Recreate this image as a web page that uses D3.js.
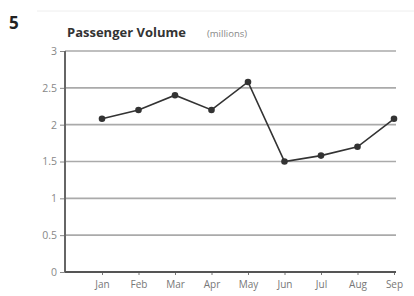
<!DOCTYPE html>
<html>
<head>
<meta charset="utf-8">
<script src="https://cdn.jsdelivr.net/npm/d3@7"></script>
<style>
  body { margin: 0; background: #fff; }
  text { font-family: "Open Sans", "DejaVu Sans", sans-serif; }
</style>
</head>
<body>
<div id="wrapper"></div>
<script>
const months = ["Jan", "Feb", "Mar", "Apr", "May", "Jun", "Jul", "Aug", "Sep"];
const volume = [2.08, 2.2, 2.4, 2.2, 2.58, 1.5, 1.58, 1.7, 2.08];
const yTicks = [0, 0.5, 1, 1.5, 2, 2.5, 3];
const yLabels = ["0", "0.5", "1", "1.5", "2", "2.5", "3"];

const width = 414, height = 296;
const margin = { top: 51, left: 65, bottom: 24, right: 18 };
const innerW = width - margin.left - margin.right;
const innerH = height - margin.top - margin.bottom;

const svg = d3.select("#wrapper").append("svg")
    .attr("width", width)
    .attr("height", height);

// faint frame line on top
svg.append("line")
    .attr("x1", 37).attr("x2", 414)
    .attr("y1", 11).attr("y2", 11)
    .attr("stroke", "#eee").attr("stroke-width", 1);

svg.append("text")
    .attr("x", 9).attr("y", 29)
    .style("font-size", "17px").style("font-weight", "bold")
    .attr("fill", "#222")
    .text("5");

svg.append("text")
    .attr("x", 67).attr("y", 37)
    .style("font-size", "13px").style("font-weight", "bold")
    .attr("fill", "#333")
    .text("Passenger Volume");

svg.append("text")
    .attr("x", 207).attr("y", 37)
    .style("font-size", "9.5px")
    .attr("fill", "#888")
    .text("(millions)");

const g = svg.append("g")
    .attr("transform", `translate(${margin.left},${margin.top})`);

const y = d3.scaleLinear().domain([0, 3]).range([innerH, 0]);
const x = d3.scalePoint().domain(months).range([37, innerW - 2]);

// gridlines
g.selectAll(".grid")
    .data(yTicks.filter(d => d > 0))
    .join("line")
    .attr("x1", 0).attr("x2", innerW)
    .attr("y1", d => y(d)).attr("y2", d => y(d))
    .attr("stroke", "#aaa").attr("stroke-width", 1.6);

const yAxis = d3.axisLeft(y)
    .tickValues(yTicks)
    .tickFormat((d, i) => yLabels[i])
    .tickSize(5).tickPadding(3);

const yg = g.append("g").call(yAxis);
yg.select(".domain").remove();
yg.selectAll(".tick line").attr("stroke", "#888");
yg.selectAll(".tick text").attr("fill", "#888").style("font-size", "10.5px");

const xAxis = d3.axisBottom(x).tickSize(3).tickPadding(6);
const xg = g.append("g").attr("transform", `translate(0,${innerH})`).call(xAxis);
xg.select(".domain").remove();
xg.selectAll(".tick line").attr("stroke", "#777");
xg.selectAll(".tick text").attr("fill", "#777").style("font-size", "10px");

// axis lines
g.append("line")
    .attr("x1", 0).attr("x2", 0)
    .attr("y1", 0).attr("y2", innerH)
    .attr("stroke", "#666").attr("stroke-width", 2);
g.append("line")
    .attr("x1", 0).attr("x2", innerW)
    .attr("y1", innerH).attr("y2", innerH)
    .attr("stroke", "#555").attr("stroke-width", 2);

const line = d3.line()
    .x((d, i) => x(months[i]))
    .y(d => y(d));

g.append("path")
    .attr("d", line(volume))
    .attr("fill", "none")
    .attr("stroke", "#333")
    .attr("stroke-width", 1.6);

g.selectAll(".pt")
    .data(volume)
    .join("circle")
    .attr("cx", (d, i) => x(months[i]))
    .attr("cy", d => y(d))
    .attr("r", 3.3)
    .attr("fill", "#333");
</script>
</body>
</html>
